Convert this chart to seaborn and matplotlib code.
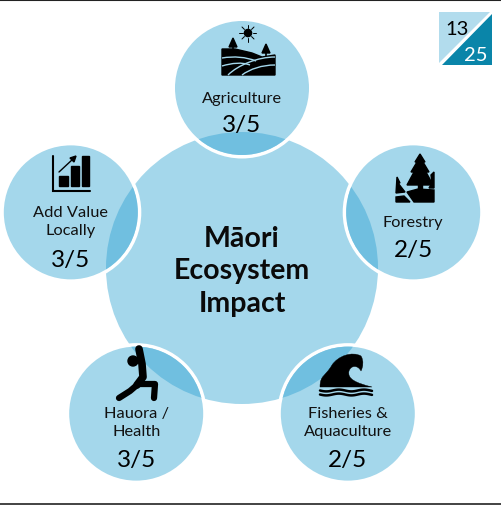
import numpy as np
import matplotlib
matplotlib.use("Agg")
import matplotlib.pyplot as plt
import seaborn as sns
from matplotlib.patches import Circle, Polygon, PathPatch, Rectangle
from matplotlib.path import Path

# data
labels = ["Agriculture", "Forestry", "Fisheries &\nAquaculture", "Hauora /\nHealth", "Add Value\nLocally"]
scores = [3, 2, 2, 3, 3]
out_of = 5
total_score = 13
total_max = 25
title_lines = ["Māori", "Ecosystem", "Impact"]

LIGHT = "#A4D7EB"
MID = "#70BFE0"
DARK = "#0A85A9"
BLACK = "#000000"

sns.set_theme(style="white")
plt.rcParams["font.family"] = ["Lato", "DejaVu Sans"]

fig, ax = plt.subplots(figsize=(5.01, 5.06), dpi=100)
fig.subplots_adjust(0, 0, 1, 1)
ax.set_xlim(0, 501)
ax.set_ylim(506, 0)
ax.axis("off")
sns.despine(ax=ax, left=True, bottom=True)


def curve(pts, **kw):
    # pts: start then triples of cubic control points
    codes = [Path.MOVETO] + [Path.CURVE4] * (len(pts) - 1)
    ax.add_patch(PathPatch(Path(pts, codes), **kw))


def agriculture_icon():
    ax.add_patch(Circle((248, 34), 3.6, color=BLACK, zorder=5))
    for a in np.arange(0, 360, 45):
        c, s = np.cos(np.radians(a)), np.sin(np.radians(a))
        ax.plot([248 + 5 * c, 248 + 8.5 * c], [34 + 5 * s, 34 + 8.5 * s], color=BLACK, lw=0.7, zorder=5)
    ax.add_patch(Polygon([(222, 50), (235, 50), (252, 54), (262, 58), (275, 56), (275, 76), (222, 76)], color=BLACK, zorder=5))
    for x, y in [(233, 45), (266, 51)]:
        ax.add_patch(Polygon([(x, y - 6), (x + 4, y + 3), (x - 4, y + 3)], color=BLACK, zorder=5))
        ax.plot([x, x], [y, y + 7], color=BLACK, lw=1.2, zorder=5)
    white = dict(facecolor="none", edgecolor=LIGHT, lw=1.0, zorder=6)
    curve([(222, 59), (234, 57), (246, 58), (256, 62)], **white)
    curve([(222, 67), (232, 64), (242, 63), (250, 66)], **white)
    curve([(228, 76), (238, 66), (258, 58), (275, 58)], **white)
    curve([(242, 76), (250, 70), (262, 66), (275, 66)], **white)


def forestry_icon():
    ax.add_patch(Polygon([(420, 155), (425, 163), (423, 163), (429, 173), (426, 173),
                          (433, 186), (407, 186), (414, 173), (411, 173), (417, 163), (415, 163)],
                         color=BLACK, zorder=5))
    ax.add_patch(Rectangle((418, 185), 4, 8, color=BLACK, zorder=5))
    ax.add_patch(Polygon([(431, 176), (434, 173), (434, 189), (429, 189), (432, 184)], color=BLACK, zorder=5))
    ax.add_patch(Polygon([(397, 178), (400, 184), (398, 184), (405, 193), (396, 194)], color=BLACK, zorder=5))
    ax.add_patch(Polygon([(396, 198), (404, 197), (410, 203), (396, 203)], color=BLACK, zorder=5))
    ax.add_patch(Polygon([(407, 193), (418, 190), (434, 191), (434, 203), (414, 203)], color=BLACK, zorder=5))


def fisheries_icon():
    pts = [(320, 388), (320, 376), (325, 378), (332, 366),
           (338, 357), (352, 352), (361, 357),
           (364, 362), (363, 368), (361, 372),
           (358, 366), (351, 366), (349, 372),
           (347, 380), (356, 384), (372, 388),
           (372, 388), (320, 388), (320, 388)]
    curve(pts, facecolor=BLACK, edgecolor=BLACK, lw=0.3, zorder=5)
    xs = np.linspace(320, 372, 80)
    for y in [391.5, 395.5]:
        ax.plot(xs, y + 0.9 * np.sin((xs - 320) / 4.0), color=BLACK, lw=1.8, zorder=5)


def hauora_icon():
    ax.add_patch(Circle((133, 362), 5, color=BLACK, zorder=5))
    limb = dict(color=BLACK, solid_capstyle="round", solid_joinstyle="round", zorder=5)
    ax.plot([139, 142, 143, 137], [350, 365, 378, 386], lw=5.5, **limb)
    ax.plot([137, 130, 119], [386, 392, 399], lw=4.5, **limb)
    ax.plot([139, 155, 154], [385, 385, 399], lw=4.5, **limb)


def add_value_icon():
    ax.plot([53, 53, 90], [157, 192, 192], color=BLACK, lw=1.5, solid_joinstyle="miter", zorder=5)
    for x0, x1, y0 in [(59, 68, 177), (71, 79, 167), (82, 89, 157)]:
        ax.add_patch(Rectangle((x0, y0), x1 - x0, 187 - y0, color=BLACK, zorder=5))
    ax.plot([59, 73], [173, 160], color=BLACK, lw=1.0, zorder=5)
    ax.add_patch(Polygon([(76, 157), (74, 163), (70, 159)], color=BLACK, zorder=5))


icons = [agriculture_icon, forestry_icon, fisheries_icon, hauora_icon, add_value_icon]

hub_x, hub_y, hub_r = 242, 269, 136
orbit, small_r = 180, 67
angles = np.radians(90 - 72 * np.arange(len(labels)))
label_y = [99, 223, 423, 423, 222]
score_y = [125, 251, 461, 461, 260]

ax.add_patch(Circle((hub_x, hub_y), hub_r, facecolor=LIGHT, edgecolor="none", zorder=1))

for i, label in enumerate(labels):
    cx = hub_x + orbit * np.cos(angles[i])
    cy = hub_y - orbit * np.sin(angles[i])
    ax.add_patch(Circle((cx, cy), small_r + 3.5, facecolor="white", edgecolor="none", zorder=2))
    ax.add_patch(Circle((cx, cy), small_r, facecolor=LIGHT, edgecolor="none", zorder=3))
    overlap = Circle((hub_x, hub_y), hub_r, facecolor=MID, edgecolor="none", zorder=4)
    ax.add_patch(overlap)
    overlap.set_clip_path(Circle((cx, cy), small_r, transform=ax.transData))
    icons[i]()
    ax.text(cx, label_y[i], label, ha="center", va="center", fontsize=11.8, color="#111111",
            linespacing=1.38, zorder=7)
    ax.text(cx, score_y[i], f"{scores[i]}/{out_of}", ha="center", va="center", fontsize=17.5,
            color=BLACK, zorder=7)

for line, y in zip(title_lines, [239, 271, 304]):
    ax.text(hub_x, y, line, ha="center", va="center", fontsize=20.5, fontweight="bold", color="#0A0A0A", zorder=7)

# score badge
ax.add_patch(Polygon([(439, 13), (490, 13), (439, 64)], facecolor="#B2DCED", edgecolor="none"))
ax.add_patch(Polygon([(442, 66), (492, 66), (492, 15)], facecolor=DARK, edgecolor="none"))
ax.text(457, 29, str(total_score), ha="center", va="center", fontsize=14.5, color=BLACK)
ax.text(476, 55, str(total_max), ha="center", va="center", fontsize=14.5, color="white")

# frame rules
ax.plot([0, 501], [0.5, 0.5], color="#222222", lw=1.5, clip_on=True)
ax.plot([0, 501], [504.5, 504.5], color="#222222", lw=1.2, clip_on=True)

fig.savefig("out.png", dpi=100, facecolor="white")
